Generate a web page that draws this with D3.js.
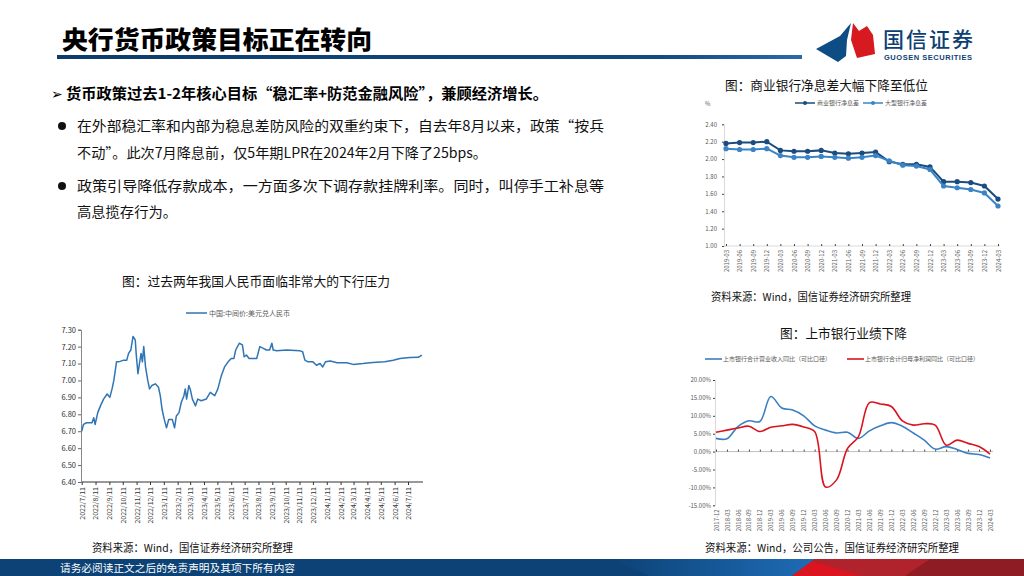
<!DOCTYPE html>
<html>
<head>
<meta charset="utf-8">
<script src="https://cdn.jsdelivr.net/npm/d3@7"></script>
<style>
  body { margin: 0; background: #fff; }
  svg { display: block; }
</style>
</head>
<body>
<div id="vis"></div>
<script>
const W = 1024;
const H = 576;
const FONT = "'Noto Sans CJK SC', 'Noto Sans', sans-serif";
const AXIS_GREY = "#595959";

// ---------- data ----------
// 中国:中间价:美元兑人民币
const fxDates = [
  "2022-07-11","2022-07-15","2022-07-22","2022-08-03","2022-08-07","2022-08-10","2022-08-16","2022-08-22",
  "2022-08-29","2022-09-06","2022-09-12","2022-09-17","2022-09-21","2022-09-27","2022-10-02","2022-10-13",
  "2022-10-20","2022-10-24","2022-10-29","2022-11-03","2022-11-08","2022-11-10","2022-11-14","2022-11-18",
  "2022-11-21","2022-11-24","2022-11-27","2022-12-01","2022-12-06","2022-12-10","2022-12-15","2022-12-23",
  "2022-12-30","2023-01-03","2023-01-07","2023-01-12","2023-01-17","2023-01-22","2023-01-30","2023-02-04",
  "2023-02-08","2023-02-14","2023-02-19","2023-02-25","2023-02-28","2023-03-03","2023-03-08","2023-03-11",
  "2023-03-16","2023-03-23","2023-03-28","2023-04-05","2023-04-16","2023-04-25","2023-05-05","2023-05-12",
  "2023-05-20","2023-05-27","2023-06-04","2023-06-11","2023-06-17","2023-06-21","2023-06-29","2023-07-06",
  "2023-07-10","2023-07-15","2023-07-21","2023-07-30","2023-08-07","2023-08-14","2023-08-22","2023-08-29",
  "2023-09-05","2023-09-10","2023-09-13","2023-09-21","2023-10-13","2023-11-12","2023-11-18","2023-11-23",
  "2023-11-30","2023-12-11","2023-12-19","2023-12-27","2024-01-02","2024-01-08","2024-01-19","2024-02-03",
  "2024-02-25","2024-03-10","2024-04-01","2024-04-17","2024-05-01","2024-05-20","2024-06-08","2024-06-23",
  "2024-07-15","2024-08-03","2024-08-11"
];
const fxValues = [
  6.70, 6.74, 6.75, 6.75, 6.78, 6.74, 6.81, 6.85,
  6.89, 6.92, 6.90, 6.95, 7.00, 7.11, 7.11, 7.12,
  7.12, 7.16, 7.18, 7.26, 7.24, 7.16, 7.04, 7.11,
  7.16, 7.11, 7.20, 7.08, 7.00, 6.95, 6.97, 6.98,
  6.96, 6.91, 6.83, 6.77, 6.72, 6.77, 6.77, 6.72,
  6.79, 6.81, 6.87, 6.91, 6.95, 6.89, 6.97, 6.95,
  6.89, 6.85, 6.89, 6.88, 6.89, 6.93, 6.91, 6.95,
  7.03, 7.08, 7.11, 7.13, 7.13, 7.18, 7.22, 7.21,
  7.14, 7.15, 7.13, 7.13, 7.13, 7.20, 7.19, 7.18,
  7.18, 7.22, 7.18, 7.175, 7.18, 7.175, 7.17, 7.12,
  7.11, 7.11, 7.09, 7.10, 7.08, 7.11, 7.115, 7.105,
  7.105, 7.095, 7.10, 7.105, 7.108, 7.11, 7.12, 7.13,
  7.135, 7.137, 7.15
];
const fxTickLabels = [
  "2022/7/11","2022/8/11","2022/9/11","2022/10/11","2022/11/11","2022/12/11","2023/1/11","2023/2/11",
  "2023/3/11","2023/4/11","2023/5/11","2023/6/11","2023/7/11","2023/8/11","2023/9/11","2023/10/11",
  "2023/11/11","2023/12/11","2024/1/11","2024/2/11","2024/3/11","2024/4/11","2024/5/11","2024/6/11",
  "2024/7/11"
];
const fxYTicks = [6.40, 6.50, 6.60, 6.70, 6.80, 6.90, 7.00, 7.10, 7.20, 7.30];

// 净息差 (%)
const nimQuarters = [
  "2019-03","2019-06","2019-09","2019-12","2020-03","2020-06","2020-09","2020-12","2021-03","2021-06",
  "2021-09","2021-12","2022-03","2022-06","2022-09","2022-12","2023-03","2023-06","2023-09","2023-12","2024-03"
];
const nimCommercial = [2.18, 2.19, 2.19, 2.20, 2.10, 2.09, 2.09, 2.10, 2.07, 2.06, 2.07, 2.08, 1.97, 1.94, 1.94, 1.91, 1.74, 1.74, 1.73, 1.69, 1.54];
const nimLarge      = [2.12, 2.11, 2.11, 2.12, 2.04, 2.02, 2.02, 2.03, 2.02, 2.01, 2.02, 2.04, 1.98, 1.93, 1.92, 1.88, 1.69, 1.67, 1.65, 1.61, 1.46];
const nimYTicks = [1.00, 1.20, 1.40, 1.60, 1.80, 2.00, 2.20, 2.40];

// 上市银行业绩 (同比, %)
const perfQuarters = [
  "2017-12","2018-03","2018-06","2018-09","2018-12","2019-03","2019-06","2019-09","2019-12","2020-03",
  "2020-06","2020-09","2020-12","2021-03","2021-06","2021-09","2021-12","2022-03","2022-06","2022-09",
  "2022-12","2023-03","2023-06","2023-09","2023-12","2024-03"
];
const revenueYoy = [3.7, 3.6, 7.0, 8.6, 8.4, 15.4, 12.2, 11.6, 10.0, 7.2, 6.0, 5.2, 5.4, 3.7, 5.8, 7.2, 8.1, 7.1, 5.2, 3.2, 0.7, 1.4, 0.6, -0.5, -0.8, -1.8];
const profitYoy  = [5.4, 6.0, 6.6, 7.1, 5.6, 6.8, 7.2, 7.6, 6.9, 5.6, -9.9, -7.9, 0.9, 4.2, 13.7, 13.3, 12.6, 8.6, 7.4, 7.8, 7.4, 1.8, 3.2, 2.3, 1.4, -0.7];
const perfYTicks = [-15, -10, -5, 0, 5, 10, 15, 20];

const svg = d3.select("#vis").append("svg").attr("width", W).attr("height", H)
  .style("font-family", FONT);

const parseDash = d3.timeParse("%Y-%m-%d");
const parseSlash = (s) => { const p = s.split("/").map(Number); return new Date(p[0], p[1] - 1, p[2]); };

// ############
// header
// ############
const defs = svg.append("defs");
const barGrad = defs.append("linearGradient").attr("id", "barGrad");
barGrad.append("stop").attr("offset", "0%").attr("stop-color", "#0d3b6b");
barGrad.append("stop").attr("offset", "80%").attr("stop-color", "#124a82");
barGrad.append("stop").attr("offset", "100%").attr("stop-color", "#2a6aa8");

svg.append("text").attr("x", 62).attr("y", 49)
  .attr("font-size", 25).attr("font-weight", 900).attr("fill", "#000")
  .attr("textLength", 310).attr("lengthAdjust", "spacingAndGlyphs")
  .text("央行货币政策目标正在转向");
svg.append("rect").attr("x", 57).attr("y", 55).attr("width", 745).attr("height", 4)
  .attr("fill", "url(#barGrad)");

// logo
svg.append("path").attr("d", "M851,23 L840,36 L816,49 L838,62 L846,56 L847,40 Z").attr("fill", "#0e4c86");
svg.append("path").attr("d", "M853,23 L859,31 L867,26 L873,35 L875,54 L857,58 L851,40 Z").attr("fill", "#d71920");
svg.append("text").attr("x", 883).attr("y", 47).attr("font-size", 21).attr("font-weight", 500)
  .attr("fill", "#0e3f74").attr("textLength", 90).text("国信证券");
svg.append("text").attr("x", 884).attr("y", 60).attr("font-size", 7.5).attr("font-weight", 700)
  .attr("font-family", "'Liberation Sans Narrow', 'Liberation Sans', sans-serif")
  .attr("fill", "#0e3f74").attr("textLength", 88).text("GUOSEN SECURITIES");

// ############
// body text
// ############
svg.append("text").attr("x", 51).attr("y", 99).attr("font-size", 14).attr("font-weight", 700)
  .attr("font-family", "'DejaVu Sans', sans-serif").text("➢");
svg.append("text").attr("x", 66).attr("y", 99).attr("font-size", 14.5).attr("font-weight", 700)
  .attr("textLength", 482).attr("lengthAdjust", "spacingAndGlyphs")
  .text("货币政策过去1-2年核心目标“稳汇率+防范金融风险”，兼顾经济增长。");

const bodyLines = [
  { y: 131, w: 527, t: "在外部稳汇率和内部为稳息差防风险的双重约束下，自去年8月以来，政策“按兵" },
  { y: 158, w: 410, t: "不动”。此次7月降息前，仅5年期LPR在2024年2月下降了25bps。" },
  { y: 191, w: 527, t: "政策引导降低存款成本，一方面多次下调存款挂牌利率。同时，叫停手工补息等" },
  { y: 217, w: 100, t: "高息揽存行为。" }
];
bodyLines.forEach((l) => {
  svg.append("text").attr("x", 77).attr("y", l.y).attr("font-size", 14).attr("fill", "#111")
    .attr("textLength", l.w).attr("lengthAdjust", "spacingAndGlyphs").text(l.t);
});
[126, 186].forEach((cy) => svg.append("circle").attr("cx", 62).attr("cy", cy).attr("r", 4).attr("fill", "#111"));

// ############
// left chart: USD/CNY
// ############
const fx = fxDates.map((d, i) => ({ date: parseDash(d), value: fxValues[i] }));
const fxTicks = fxTickLabels.map(parseSlash);
const xFx = d3.scaleTime().domain([fxTicks[0], fxTicks[fxTicks.length - 1]]).range([81.7, 408]);
const yFx = d3.scaleLinear().domain([6.40, 7.30]).range([482, 329.7]);

svg.append("text").attr("x", 122).attr("y", 286).attr("font-size", 13).attr("fill", "#111")
  .attr("textLength", 268).attr("lengthAdjust", "spacingAndGlyphs")
  .text("图：过去两年我国人民币面临非常大的下行压力");

const leftChart = svg.append("g");
const fxXAxis = leftChart.append("g").attr("transform", "translate(0,482)")
  .call(d3.axisBottom(xFx).tickValues(fxTicks).tickSize(3)
    .tickFormat((d, i) => fxTickLabels[i]));
fxXAxis.select(".domain").remove();
fxXAxis.selectAll("line").attr("stroke", "#333");
fxXAxis.selectAll("text")
  .attr("transform", "rotate(-90)").attr("text-anchor", "end")
  .attr("x", -5).attr("y", 0).attr("dy", "0.35em")
  .attr("font-size", 7).attr("font-family", FONT).attr("fill", "#333");
leftChart.append("line").attr("x1", 81).attr("x2", 423).attr("y1", 482).attr("y2", 482)
  .attr("stroke", "#333").attr("stroke-width", 1);

const fxYAxis = leftChart.append("g").attr("transform", "translate(81,0)")
  .call(d3.axisLeft(yFx).tickValues(fxYTicks).tickSize(3).tickFormat(d3.format(".2f")));
fxYAxis.select(".domain").attr("stroke", "#888");
fxYAxis.selectAll("line").attr("stroke", "#666");
fxYAxis.selectAll("text").attr("font-size", 7.5).attr("font-family", FONT).attr("fill", "#333").attr("x", -5);

leftChart.append("path").datum(fx)
  .attr("fill", "none").attr("stroke", "#2f75b5").attr("stroke-width", 1.5)
  .attr("stroke-linejoin", "round")
  .attr("d", d3.line().x((d) => xFx(d.date)).y((d) => yFx(d.value)));

leftChart.append("line").attr("x1", 186).attr("x2", 207).attr("y1", 313).attr("y2", 313)
  .attr("stroke", "#2f75b5").attr("stroke-width", 1.5);
leftChart.append("text").attr("x", 209).attr("y", 315.5).attr("font-size", 7).attr("fill", AXIS_GREY)
  .text("中国:中间价:美元兑人民币");

svg.append("text").attr("x", 92).attr("y", 552).attr("font-size", 11).attr("fill", "#111")
  .attr("textLength", 201).attr("lengthAdjust", "spacingAndGlyphs")
  .text("资料来源：Wind，国信证券经济研究所整理");

// ############
// right top chart: NIM
// ############
const xNim = d3.scalePoint().domain(nimQuarters).range([726, 998]);
const yNim = d3.scaleLinear().domain([1.0, 2.4]).range([246, 124.3]);
const nimSeries = [
  { name: "商业银行净息差", values: nimCommercial, color: "#1b4c7d", lx: 795 },
  { name: "大型银行净息差", values: nimLarge, color: "#3a84c6", lx: 863 }
];

svg.append("text").attr("x", 725).attr("y", 90).attr("font-size", 13).attr("fill", "#111")
  .attr("textLength", 203).attr("lengthAdjust", "spacingAndGlyphs")
  .text("图：商业银行净息差大幅下降至低位");
svg.append("text").attr("x", 705).attr("y", 106).attr("font-size", 6).attr("fill", AXIS_GREY).text("%");

const nimChart = svg.append("g");
const nimYAxis = nimChart.append("g").attr("transform", "translate(724,0)")
  .call(d3.axisLeft(yNim).tickValues(nimYTicks).tickSize(2).tickFormat(d3.format(".2f")));
nimYAxis.select(".domain").attr("stroke", "#d9d9d9");
nimYAxis.selectAll("line").attr("stroke", "#444");
nimYAxis.selectAll("text").attr("font-size", 6).attr("font-family", FONT).attr("fill", AXIS_GREY).attr("x", -7);

const nimXAxis = nimChart.append("g").attr("transform", "translate(0,246)")
  .call(d3.axisBottom(xNim).tickSize(2));
nimXAxis.select(".domain").attr("stroke", "#d9d9d9").attr("d", "M724,0H1000");
nimXAxis.selectAll("line").attr("stroke", "#444").attr("y1", -2).attr("y2", 0);
nimXAxis.selectAll("text")
  .attr("transform", "rotate(-90)").attr("text-anchor", "end")
  .attr("x", -4).attr("y", 0).attr("dy", "0.35em")
  .attr("font-size", 6).attr("font-family", FONT).attr("fill", AXIS_GREY);

nimSeries.forEach((s) => {
  const g = nimChart.append("g");
  g.append("path").datum(s.values)
    .attr("fill", "none").attr("stroke", s.color).attr("stroke-width", 2)
    .attr("d", d3.line().x((d, i) => xNim(nimQuarters[i])).y((d) => yNim(d)));
  g.selectAll("circle").data(s.values).join("circle")
    .attr("cx", (d, i) => xNim(nimQuarters[i])).attr("cy", (d) => yNim(d))
    .attr("r", 2.6).attr("fill", s.color);
  g.append("line").attr("x1", s.lx).attr("x2", s.lx + 20).attr("y1", 103).attr("y2", 103)
    .attr("stroke", s.color).attr("stroke-width", 1.5);
  g.append("circle").attr("cx", s.lx + 10).attr("cy", 103).attr("r", 2).attr("fill", s.color);
  g.append("text").attr("x", s.lx + 22).attr("y", 105).attr("font-size", 6).attr("fill", AXIS_GREY).text(s.name);
});

svg.append("text").attr("x", 711).attr("y", 301).attr("font-size", 11).attr("fill", "#111")
  .attr("textLength", 200).attr("lengthAdjust", "spacingAndGlyphs")
  .text("资料来源：Wind，国信证券经济研究所整理");

// ############
// right bottom chart: listed banks
// ############
const xPerf = d3.scalePoint().domain(perfQuarters).range([716, 990]);
const yPerf = d3.scaleLinear().domain([-15, 20]).range([505.3, 380]);
const perfSeries = [
  { name: "上市银行合计营业收入同比（可比口径）", values: revenueYoy, color: "#3a7fc1", lx: 705 },
  { name: "上市银行合计归母净利润同比（可比口径）", values: profitYoy, color: "#d9141e", lx: 847 }
];

svg.append("text").attr("x", 780).attr("y", 338).attr("font-size", 13).attr("fill", "#111")
  .attr("textLength", 127).attr("lengthAdjust", "spacingAndGlyphs")
  .text("图：上市银行业绩下降");

const perfChart = svg.append("g");
const perfYAxis = perfChart.append("g").attr("transform", "translate(715,0)")
  .call(d3.axisLeft(yPerf).tickValues(perfYTicks).tickSize(2).tickFormat((d) => d.toFixed(2) + "%"));
perfYAxis.select(".domain").attr("stroke", "#d9d9d9");
perfYAxis.selectAll("line").attr("stroke", "#444");
perfYAxis.selectAll("text").attr("font-size", 6).attr("font-family", FONT).attr("fill", AXIS_GREY).attr("x", -4);

// zero line with ticks
const perfZero = perfChart.append("g").attr("transform", "translate(0," + yPerf(0) + ")")
  .call(d3.axisBottom(xPerf).tickSize(2).tickFormat(""));
perfZero.select(".domain").attr("stroke", "#bfbfbf").attr("d", "M715,0H993");
perfZero.selectAll("line").attr("stroke", "#444").attr("y1", -2).attr("y2", 0);

// category labels at the bottom
const perfLabels = perfChart.append("g").attr("transform", "translate(0," + yPerf(-15) + ")")
  .call(d3.axisBottom(xPerf).tickSize(0));
perfLabels.select(".domain").remove();
perfLabels.selectAll("text")
  .attr("transform", "rotate(-90)").attr("text-anchor", "end")
  .attr("x", -4).attr("y", 0).attr("dy", "0.35em")
  .attr("font-size", 6).attr("font-family", FONT).attr("fill", AXIS_GREY);

perfSeries.forEach((s) => {
  perfChart.append("path").datum(s.values)
    .attr("fill", "none").attr("stroke", s.color).attr("stroke-width", 1.6)
    .attr("d", d3.line().curve(d3.curveCatmullRom.alpha(0.5))
      .x((d, i) => xPerf(perfQuarters[i])).y((d) => yPerf(d)));
  perfChart.append("line").attr("x1", s.lx).attr("x2", s.lx + 17).attr("y1", 359).attr("y2", 359)
    .attr("stroke", s.color).attr("stroke-width", 1.6);
  perfChart.append("text").attr("x", s.lx + 18).attr("y", 361).attr("font-size", 6).attr("fill", AXIS_GREY).text(s.name);
});

svg.append("text").attr("x", 705).attr("y", 552).attr("font-size", 11).attr("fill", "#111")
  .attr("textLength", 254).attr("lengthAdjust", "spacingAndGlyphs")
  .text("资料来源：Wind，公司公告，国信证券经济研究所整理");

// ############
// footer
// ############
const footGrad = defs.append("linearGradient").attr("id", "footGrad");
footGrad.append("stop").attr("offset", "0%").attr("stop-color", "#0c4275");
footGrad.append("stop").attr("offset", "100%").attr("stop-color", "#1f6cb6");

svg.append("rect").attr("x", 0).attr("y", 559).attr("width", W).attr("height", 17).attr("fill", "#0c4275");
svg.append("path").attr("d", "M610,559 L815,559 L792,576 L650,576 Z").attr("fill", "url(#footGrad)");
svg.append("path").attr("d", "M815,559 L1024,559 L1024,576 L792,576 Z").attr("fill", "#b0222c");
svg.append("path").attr("d", "M792,576 L812,561 L862,576 Z").attr("fill", "#dc1420");
svg.append("path").attr("d", "M905,576 L930,559 L1024,559 L1024,576 Z").attr("fill", "#8e1c24");
svg.append("text").attr("x", 60).attr("y", 571.5).attr("font-size", 10).attr("fill", "#fff")
  .attr("textLength", 235).attr("lengthAdjust", "spacingAndGlyphs")
  .text("请务必阅读正文之后的免责声明及其项下所有内容");
</script>
</body>
</html>
